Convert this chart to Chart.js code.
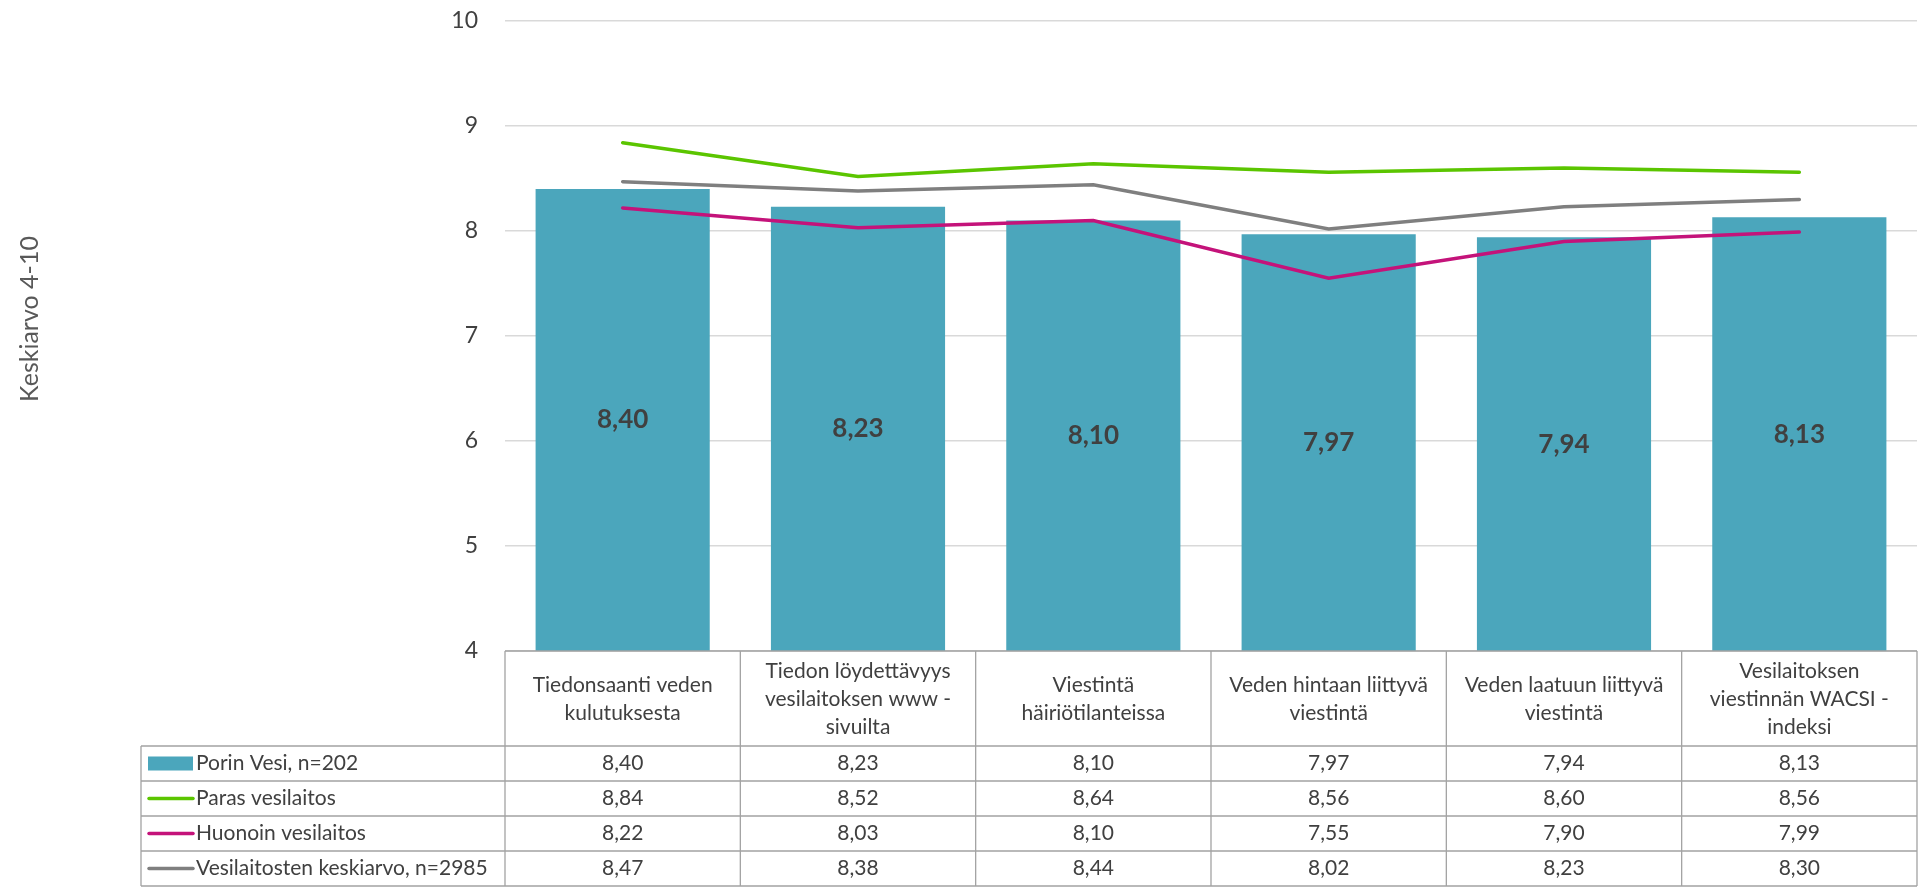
<!DOCTYPE html>
<html>
<head>
<meta charset="utf-8">
<script src="https://cdn.jsdelivr.net/npm/chart.js@4.4.1/dist/chart.umd.min.js"></script>
<style>
  html, body { margin: 0; padding: 0; background: #fff; }
  canvas { display: block; }
</style>
</head>
<body>
<canvas id="wacsiChart" width="1921" height="888"></canvas>
<script>
// --- data ---
const categories = [
    ['Tiedonsaanti veden', 'kulutuksesta'],
    ['Tiedon löydettävyys', 'vesilaitoksen www -', 'sivuilta'],
    ['Viestintä', 'häiriötilanteissa'],
    ['Veden hintaan liittyvä', 'viestintä'],
    ['Veden laatuun liittyvä', 'viestintä'],
    ['Vesilaitoksen', 'viestinnän WACSI -', 'indeksi']
];
const porinVesi = [8.40, 8.23, 8.10, 7.97, 7.94, 8.13];
const parasVesilaitos = [8.84, 8.52, 8.64, 8.56, 8.60, 8.56];
const huonoinVesilaitos = [8.22, 8.03, 8.10, 7.55, 7.90, 7.99];
const keskiarvo = [8.47, 8.38, 8.44, 8.02, 8.23, 8.30];
const seriesNames = ['Porin Vesi, n=202', 'Paras vesilaitos', 'Huonoin vesilaitos', 'Vesilaitosten keskiarvo, n=2985'];
const yTitle = 'Keskiarvo 4-10';
const yMin = 4, yMax = 10, yStep = 1;

const FONT = 'Lato, "Liberation Sans", sans-serif';
const TEXT = '#404040';
const BORDER = '#a3a3a3';

function fmt(v) { return v.toFixed(2).replace('.', ','); }

// y axis title, drawn by hand so it can sit a bit above the plot centre like the original
const axisTitle = {
    id: 'axisTitle',
    afterDraw(chart) {
        const ctx = chart.ctx;
        ctx.save();
        ctx.translate(30, 319);
        ctx.rotate(-Math.PI / 2);
        ctx.font = '25px ' + FONT;
        ctx.fillStyle = '#595959';
        ctx.textAlign = 'center';
        ctx.textBaseline = 'middle';
        ctx.fillText(yTitle, 0, 0);
        ctx.restore();
    }
};

// bar value labels in the middle of each bar
const barLabels = {
    id: 'barLabels',
    afterDatasetsDraw(chart) {
        const ctx = chart.ctx;
        const meta = chart.getDatasetMeta(3);
        const bottom = chart.chartArea.bottom;
        ctx.save();
        ctx.font = 'bold 26px ' + FONT;
        ctx.fillStyle = TEXT;
        ctx.textAlign = 'center';
        ctx.textBaseline = 'middle';
        meta.data.forEach((bar, i) => {
            const base = Math.min(bar.base, bottom);
            ctx.fillText(fmt(porinVesi[i]), bar.x, (bar.y + base) / 2);
        });
        ctx.restore();
    }
};

// data table under the plot (category header + one row per series)
const dataTable = {
    id: 'dataTable',
    afterDraw(chart) {
        const ctx = chart.ctx;
        const area = chart.chartArea;
        const xs = chart.scales.x;
        const n = categories.length;
        const colW = (area.right - area.left) / n;
        const headTop = area.bottom;
        const headBottom = 746;
        const rowH = 35;
        const legendLeft = 141;
        const rows = [porinVesi, parasVesilaitos, huonoinVesilaitos, keskiarvo];
        const tableBottom = headBottom + rowH * rows.length;

        ctx.save();
        ctx.strokeStyle = BORDER;
        ctx.lineWidth = 1.3;

        // horizontal lines
        ctx.beginPath();
        ctx.moveTo(area.left, headTop); ctx.lineTo(area.right, headTop);
        for (let r = 0; r <= rows.length; r++) {
            const y = headBottom + r * rowH;
            ctx.moveTo(legendLeft, y); ctx.lineTo(area.right, y);
        }
        // vertical lines
        for (let c = 0; c <= n; c++) {
            const x = area.left + c * colW;
            ctx.moveTo(x, headTop); ctx.lineTo(x, tableBottom);
        }
        ctx.moveTo(legendLeft, headBottom); ctx.lineTo(legendLeft, tableBottom);
        ctx.stroke();

        // category header text
        ctx.fillStyle = TEXT;
        ctx.textAlign = 'center';
        ctx.textBaseline = 'middle';
        ctx.font = '21px ' + FONT;
        const lh = 28;
        categories.forEach((lines, i) => {
            const cx = xs.getPixelForValue(i);
            const cy = (headTop + headBottom) / 2 + 1;
            const y0 = cy - (lines.length - 1) * lh / 2;
            lines.forEach((t, k) => ctx.fillText(t, cx, y0 + k * lh));
        });

        // value rows
        rows.forEach((vals, r) => {
            const cy = headBottom + r * rowH + rowH / 2;
            ctx.fillStyle = TEXT;
            ctx.textAlign = 'center';
            vals.forEach((v, i) => {
                ctx.fillText(fmt(v), xs.getPixelForValue(i), cy);
            });
            // legend cell
            const ds = chart.data.datasets[r === 0 ? 3 : r - 1];
            if (r === 0) {
                ctx.fillStyle = ds.backgroundColor;
                ctx.fillRect(148, cy - 7, 45, 14);
            } else {
                ctx.strokeStyle = ds.borderColor;
                ctx.lineWidth = 3.5;
                ctx.lineCap = 'round';
                ctx.beginPath();
                ctx.moveTo(149, cy); ctx.lineTo(193, cy);
                ctx.stroke();
            }
            ctx.fillStyle = TEXT;
            ctx.textAlign = 'left';
            ctx.fillText(seriesNames[r], 196, cy);
        });
        ctx.restore();
    }
};

try {
    const ctx = document.getElementById('wacsiChart');
    window.__WACSI_CHART = new Chart(ctx, {
        data: {
            labels: categories.map(c => c.join(' ')),
            datasets: [
                {
                    type: 'line',
                    label: seriesNames[1],
                    data: parasVesilaitos,
                    borderColor: '#5bc500',
                    borderWidth: 3.5,
                    borderCapStyle: 'round',
                    pointRadius: 0,
                    tension: 0,
                    order: 1
                },
                {
                    type: 'line',
                    label: seriesNames[2],
                    data: huonoinVesilaitos,
                    borderColor: '#c4137a',
                    borderWidth: 3.5,
                    borderCapStyle: 'round',
                    pointRadius: 0,
                    tension: 0,
                    order: 1
                },
                {
                    type: 'line',
                    label: seriesNames[3],
                    data: keskiarvo,
                    borderColor: '#7f7f7f',
                    borderWidth: 3.5,
                    borderCapStyle: 'round',
                    pointRadius: 0,
                    tension: 0,
                    order: 1
                },
                {
                    type: 'bar',
                    label: seriesNames[0],
                    data: porinVesi,
                    backgroundColor: '#4ba6bc',
                    borderWidth: 0,
                    categoryPercentage: 1,
                    barPercentage: 0.74,
                    order: 10
                }
            ]
        },
        options: {
            responsive: false,
            animation: false,
            layout: { padding: { top: 21, right: 4, bottom: 237, left: 0 } },
            plugins: {
                legend: { display: false },
                tooltip: { enabled: false }
            },
            scales: {
                x: { display: false },
                y: {
                    min: yMin,
                    max: yMax,
                    ticks: { stepSize: yStep, color: TEXT, font: { family: FONT, size: 23 }, padding: 27 },
                    grid: { color: '#d9d9d9', lineWidth: 1.5, drawTicks: false },
                    border: { display: false },
                    afterFit(scale) {
                        scale.width = 505;
                        scale.paddingTop = 0;
                        scale.paddingBottom = 0;
                    }
                }
            }
        },
        plugins: [barLabels, dataTable, axisTitle]
    });
} catch (err) {
    console.error('chart init error', err);
}
</script>
</body>
</html>
